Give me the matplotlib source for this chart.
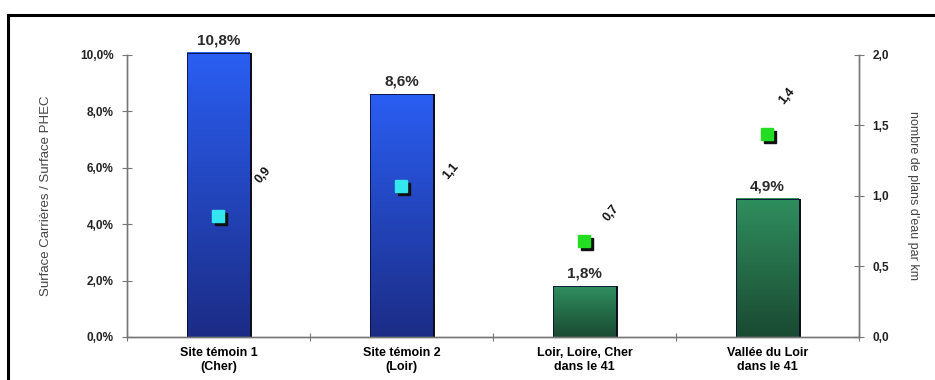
# -*- coding: utf-8 -*-

import numpy as np
import matplotlib
matplotlib.use('Agg')
import matplotlib.pyplot as plt
from matplotlib.lines import Line2D
from matplotlib.colors import LinearSegmentedColormap

plt.rcParams['font.family'] = ['Liberation Sans', 'DejaVu Sans']

# données
categories = ['Site témoin 1\n(Cher)', 'Site témoin 2\n(Loir)',
              'Loir, Loire, Cher\ndans le 41', 'Vallée du Loir\ndans le 41']
surface_pct = [10.8, 8.6, 1.8, 4.9]          # Surface Carrières / Surface PHEC (%)
plans_eau_km = [0.86, 1.07, 0.68, 1.44]      # nombre de plans d'eau par km
left_ticks = [0, 2, 4, 6, 8, 10]
right_ticks = [0.0, 0.5, 1.0, 1.5, 2.0]

bar_groups = ['blue', 'blue', 'green', 'green']
grad_colors = {
    'blue': ('#1c2c86', '#2a5ef2'),
    'green': ('#1a4a32', '#2f8e5e'),
}
marker_colors = {'blue': '#33e6f0', 'green': '#22dd22'}
label_offsets = [(32, 29), (36, 11), (19, 20), (14, 27)]


def fr(v, nd=1):
    return f'{v:.{nd}f}'.replace('.', ',')


fig = plt.figure(figsize=(9.35, 3.8), dpi=100)
ax = fig.add_axes([0.1358, 0.1132, 0.7829, 0.7421])
ax2 = ax.twinx()

x = np.arange(len(categories))
width = 0.34

for i, (v, g) in enumerate(zip(surface_pct, bar_groups)):
    top = min(v, 10.08)
    # ombre à droite
    ax.bar(x[i] + 0.012, top, width, color='#111111', zorder=1, clip_on=False)
    bar = ax.bar(x[i], top, width, color='none', edgecolor='#0a0a30',
                 linewidth=0.6, zorder=2, clip_on=False)[0]
    cmap = LinearSegmentedColormap.from_list('g' + g, grad_colors[g])
    grad = np.linspace(0, 1, 100).reshape(-1, 1)
    im = ax.imshow(grad, extent=[x[i] - width / 2, x[i] + width / 2, 0, top],
                   origin='lower', aspect='auto', cmap=cmap, zorder=1.5,
                   clip_on=False)
    im.set_clip_path(bar)
    ax.text(x[i], top + 0.2, fr(v) + '%', ha='center', va='bottom',
            fontsize=11, fontweight='bold', color='#2a2a2a', zorder=5,
            clip_on=False)

ax.set_xlim(-0.5, len(categories) - 0.5)
ax.set_ylim(0, 10)

ax2.set_ylim(0, 2)
for i, (v, g) in enumerate(zip(plans_eau_km, bar_groups)):
    ax2.plot(x[i] + 0.012, v - 0.02, 's', ms=9, color='#111111', zorder=3)
    ax2.plot(x[i], v, 's', ms=9, color=marker_colors[g],
             markeredgecolor=marker_colors[g], zorder=4)
    ax2.annotate(fr(v), (x[i], v), xytext=label_offsets[i],
                 textcoords='offset points', rotation=50, ha='center',
                 va='center', fontsize=9, fontweight='bold', color='#111111')

ax.set_yticks(left_ticks)
ax.set_yticklabels([fr(t) + '%' for t in left_ticks])
ax2.set_yticks(right_ticks)
ax2.set_yticklabels([fr(t) for t in right_ticks])

ax.set_xticks(np.arange(len(categories) + 1) - 0.5, minor=False)
ax.set_xticklabels([])
ax.set_xticks(x, minor=True)
ax.set_xticklabels(categories, minor=True, fontsize=9, fontweight='bold',
                   linespacing=1.25)
ax.tick_params(axis='x', which='minor', length=0, pad=7)
ax.tick_params(axis='x', which='major', direction='inout', length=6,
               color='#777777')

for a in (ax, ax2):
    a.spines['top'].set_visible(False)
    for s in ('left', 'right', 'bottom'):
        a.spines[s].set_color('#777777')
        a.spines[s].set_linewidth(1.0)
ax.tick_params(axis='y', direction='inout', length=7, color='#777777',
               labelsize=8.5, pad=6)
ax2.tick_params(axis='y', direction='inout', length=7, color='#777777',
                labelsize=8.5, pad=6)
for lab in ax.get_yticklabels() + ax2.get_yticklabels():
    lab.set_fontweight('bold')
    lab.set_color('#222222')

ax.set_ylabel('Surface Carrières / Surface PHEC', fontsize=9.5,
              color='#444444', labelpad=20)
ax2.set_ylabel("nombre de plans d'eau par km", fontsize=9, rotation=270,
               color='#444444', labelpad=22)

# cadre extérieur
fig.add_artist(Line2D([8 / 935, 1.0], [1 - 15 / 380, 1 - 15 / 380],
                      color='black', lw=2.2, transform=fig.transFigure))
fig.add_artist(Line2D([8 / 935, 8 / 935], [0, 1 - 15 / 380],
                      color='black', lw=2.2, transform=fig.transFigure))

fig.savefig('out.png', dpi=100)
